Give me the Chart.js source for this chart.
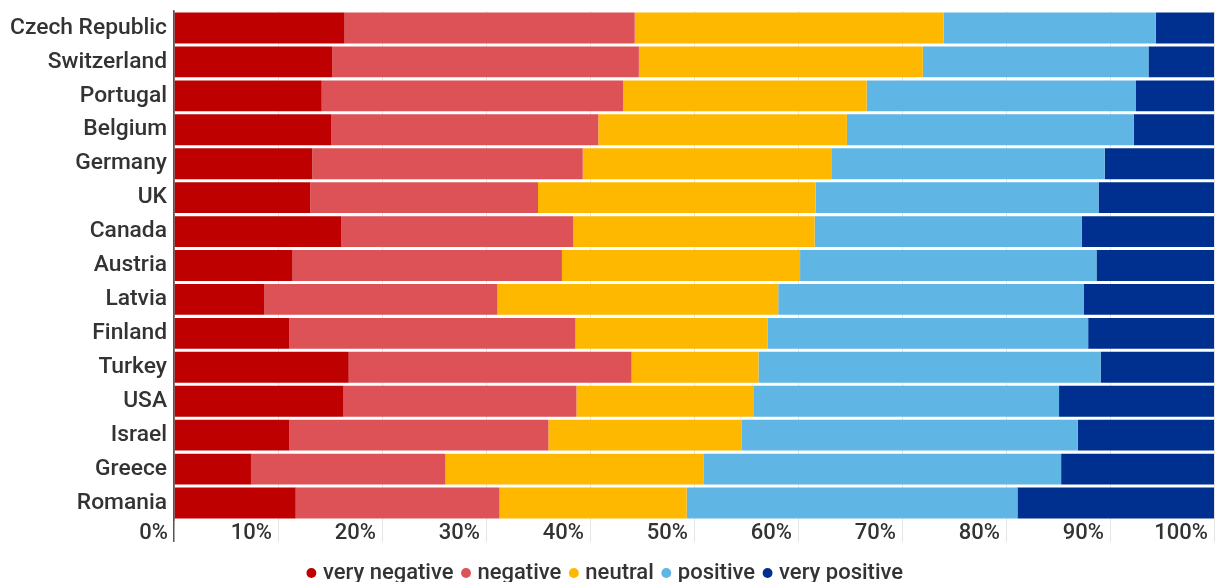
<!DOCTYPE html>
<html>
<head>
<meta charset="utf-8">
<script src="https://cdn.jsdelivr.net/npm/chart.js@4/dist/chart.umd.min.js"></script>
<style>
html,body{margin:0;padding:0;background:#fff;overflow:hidden;}
#wrap{position:relative;width:1219px;height:594px;}
</style>
</head>
<body>
<div id="wrap"><canvas id="c"></canvas></div>
<script>
const countries = ["Czech Republic","Switzerland","Portugal","Belgium","Germany","UK","Canada","Austria","Latvia","Finland","Turkey","USA","Israel","Greece","Romania"];
const veryNegative = [16.4, 15.2, 14.2, 15.1, 13.3, 13.1, 16.1, 11.4, 8.7, 11.1, 16.8, 16.3, 11.1, 7.4, 11.7];
const negative     = [27.9, 29.5, 29.0, 25.7, 26.0, 21.9, 22.3, 25.9, 22.4, 27.5, 27.2, 22.4, 24.9, 18.7, 19.6];
const neutral      = [29.7, 27.3, 23.4, 23.9, 23.9, 26.7, 23.2, 22.9, 27.0, 18.5, 12.2, 17.0, 18.6, 24.8, 18.0];
const positive     = [20.4, 21.7, 25.9, 27.6, 26.3, 27.2, 25.7, 28.5, 29.4, 30.8, 32.9, 29.4, 32.3, 34.4, 31.8];
const veryPositive = [5.6, 6.3, 7.5, 7.7, 10.5, 11.1, 12.7, 11.3, 12.5, 12.1, 10.9, 14.9, 13.1, 14.7, 18.9];
const seriesNames = ["very negative","negative","neutral","positive","very positive"];
const seriesColors = ["#bf0000","#dc5256","#ffb800","#5fb5e3","#00308f"];
const xTicks = [0,10,20,30,40,50,60,70,80,90,100];

const seriesData = [veryNegative, negative, neutral, positive, veryPositive];
const FONT = "Roboto, 'Noto Sans', sans-serif";

new Chart(document.getElementById('c'), {
  type: 'bar',
  data: {
    labels: countries,
    datasets: seriesNames.map((n, i) => ({
      label: n,
      data: seriesData[i],
      backgroundColor: seriesColors[i],
      borderWidth: 0,
      barPercentage: 0.91,
      categoryPercentage: 1.0
    }))
  },
  options: {
    indexAxis: 'y',
    responsive: true,
    maintainAspectRatio: false,
    animation: false,
    layout: { padding: { top: 11, right: 5, left: 0, bottom: 0 } },
    scales: {
      x: {
        stacked: true,
        min: 0, max: 100,
        afterBuildTicks: (s) => { s.ticks = xTicks.map(v => ({ value: v })); },
        afterFit: (s) => { s.height = 30; s.paddingLeft = 0; s.paddingRight = 0; },
        ticks: {
          callback: (v) => v + '%',
          align: 'end',
          labelOffset: -6,
          padding: -22,
          color: '#333',
          font: { family: FONT, size: 22, weight: 500 },
          maxRotation: 0,
          autoSkip: false
        },
        grid: {
          color: (ctx) => ctx.index === 0 ? '#555' : '#e4e4e4',
          lineWidth: (ctx) => ctx.index === 0 ? 1.5 : 1,
          tickLength: 22,
          drawTicks: true
        },
        border: { display: false }
      },
      y: {
        stacked: true,
        afterFit: (s) => { s.width = 174; s.paddingTop = 0; s.paddingBottom = 0; },
        ticks: {
          color: '#333',
          padding: 7,
          font: { family: FONT, size: 22.8, weight: 500 },
          autoSkip: false
        },
        grid: { display: false, drawTicks: false },
        border: { display: true, color: '#555', width: 1.5 }
      }
    },
    plugins: {
      tooltip: { enabled: false },
      legend: {
        position: 'bottom',
        labels: {
          usePointStyle: true,
          pointStyle: 'circle',
          boxWidth: 1,
          boxHeight: 7,
          padding: 12,
          color: '#333',
          font: { family: FONT, size: 22, weight: 500 }
        }
      }
    }
  }
});
</script>
</body>
</html>
